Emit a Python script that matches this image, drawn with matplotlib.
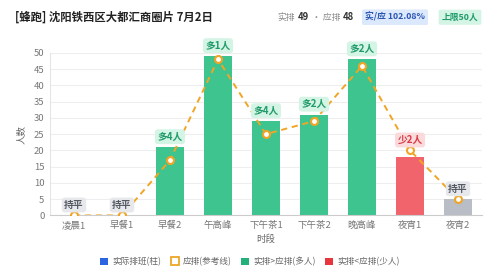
import matplotlib
matplotlib.use("Agg")
import matplotlib.pyplot as plt
import numpy as np
from matplotlib.lines import Line2D
from matplotlib.patches import Patch

plt.rcParams['font.family'] = ['Noto Sans CJK SC', 'DejaVu Sans']

slots = ["凌晨1", "早餐1", "早餐2", "午高峰", "下午茶1", "下午茶2", "晚高峰", "夜宵1", "夜宵2"]
actual = [0, 0, 21, 49, 29, 31, 48, 18, 5]
planned = [0, 0, 17, 48, 25, 29, 46, 20, 5]
diff_labels = ["持平", "持平", "多4人", "多1人", "多4人", "多2人", "多2人", "少2人", "持平"]

GREEN = "#3dc48f"
RED = "#f2646b"
GRAY = "#b9bdc6"
ORANGE = "#f0a526"
BLUE = "#2b63e0"

fig = plt.figure(figsize=(5, 2.78), dpi=100)
ax = fig.add_axes([0.10, 0.225, 0.864, 0.585])

x = np.arange(len(slots))
colors = []
for a, p in zip(actual, planned):
    if a > p:
        colors.append(GREEN)
    elif a < p:
        colors.append(RED)
    else:
        colors.append(GRAY)

ax.bar(x, actual, width=0.58, color=colors, zorder=2)
ax.plot(x, planned, color=ORANGE, lw=1.4, ls=(0, (3.2, 2.4)), marker='o', ms=5,
        mfc='white', mec=ORANGE, mew=1.5, zorder=3)

# badges above each slot
for i, (a, p, lab) in enumerate(zip(actual, planned, diff_labels)):
    if a > p:
        fc, tc = "#d4f4e5", "#1f9a68"
    elif a < p:
        fc, tc = "#fbdadc", "#d83b45"
    else:
        fc, tc = "#e6e8ec", "#555a63"
    top = max(a, p)
    ax.annotate(lab, (i, top), xytext=(0, 7.5), textcoords='offset points',
                ha='center', va='center', fontsize=7, fontweight='bold', color=tc,
                bbox=dict(boxstyle='round,pad=0.25,rounding_size=0.3', fc=fc, ec='none'),
                zorder=4)

ax.set_xlim(-0.5, len(slots) - 0.5)
ax.set_ylim(0, 50)
ax.set_yticks(range(0, 51, 5))
ax.set_xticks(x)
ax.set_xticklabels(slots)
ax.tick_params(axis='both', labelsize=6.8, colors='#777777', length=0, pad=4)
ax.grid(axis='y', color='#eeeeee', lw=0.8, zorder=0)
for s in ['top', 'right']:
    ax.spines[s].set_visible(False)
ax.spines['left'].set_color('#e6e6e6')
ax.spines['bottom'].set_color('#cccccc')
ax.set_ylabel("人数", fontsize=6.8, color='#666666', labelpad=6)
ax.set_xlabel("时段", fontsize=6.8, color='#666666', labelpad=3)

# header
fig.text(0.03, 0.938, "[蜂跑] 沈阳铁西区大都汇商圈片 7月2日", fontsize=8.2, fontweight='bold',
         color='#222222', va='center')
fig.text(0.554, 0.938, "实排", fontsize=6.3, color='#888888', va='center')
fig.text(0.595, 0.938, "49", fontsize=6.8, fontweight='bold', color='#333333', va='center')
fig.text(0.624, 0.938, "· 应排", fontsize=6.3, color='#888888', va='center')
fig.text(0.686, 0.938, "48", fontsize=6.8, fontweight='bold', color='#333333', va='center')
fig.text(0.79, 0.938, "实/应 102.08%", fontsize=6.3, fontweight='bold', color='#2a55b5',
         va='center', ha='center',
         bbox=dict(boxstyle='round,pad=0.35,rounding_size=0.2', fc='#dce8fb', ec='none'))
fig.text(0.92, 0.938, "上限50人", fontsize=6.3, fontweight='bold', color='#1f9a68',
         va='center', ha='center',
         bbox=dict(boxstyle='round,pad=0.35,rounding_size=0.2', fc='#d4f4e5', ec='none'))

handles = [
    Patch(fc=BLUE, ec='none', label="实际排班(柱)"),
    Line2D([], [], ls='none', marker='s', ms=6, mfc='white', mec=ORANGE, mew=1.3, label="应排(参考线)"),
    Patch(fc="#23b07a", ec='none', label="实排>应排(多人)"),
    Patch(fc="#e8363f", ec='none', label="实排<应排(少人)"),
]
fig.legend(handles=handles, loc='center', bbox_to_anchor=(0.5, 0.058), ncol=4, frameon=False,
           fontsize=6.2, labelcolor='#666666', handlelength=0.9, handleheight=0.9,
           handletextpad=0.5, columnspacing=1.1)

fig.savefig("out.png", dpi=100, facecolor='white')
